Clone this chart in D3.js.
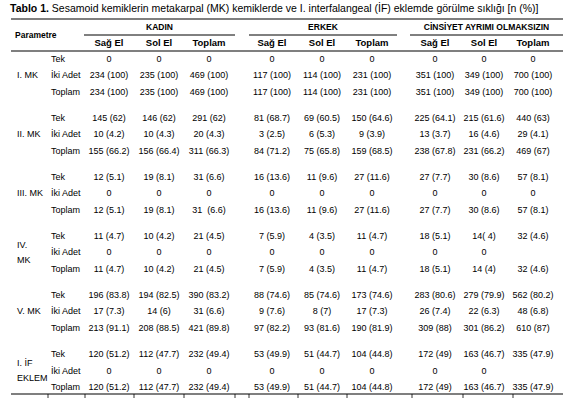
<!DOCTYPE html>
<html><head><meta charset="utf-8">
<script src="https://cdn.jsdelivr.net/npm/d3@7"></script>
<style>body{margin:0;background:#fff}svg{font-family:"Liberation Sans",Arial,sans-serif}</style>
</head><body><svg id="c" width="574" height="404"></svg>
<script>
const title = ["Tablo 1.", " Sesamoid kemiklerin metakarpal (MK) kemiklerde ve I. interfalangeal (İF) eklemde görülme sıklığı [n (%)]"];
const groups = ["KADIN", "ERKEK", "CİNSİYET AYRIMI OLMAKSIZIN"];
const subCols = ["Sağ El", "Sol El", "Toplam"];
const parameters = [["I. MK"], ["II. MK"], ["III. MK"], ["IV.", "MK"], ["V. MK"], ["I. İF", "EKLEM"]];
const rowTypes = ["Tek", "İki Adet", "Toplam"];
const values = [
 [["0","0","0","0","0","0","0","0","0"],
  ["234 (100)","235 (100)","469 (100)","117 (100)","114 (100)","231 (100)","351 (100)","349 (100)","700 (100)"],
  ["234 (100)","235 (100)","469 (100)","117 (100)","114 (100)","231 (100)","351 (100)","349 (100)","700 (100)"]],
 [["145 (62)","146 (62)","291 (62)","81 (68.7)","69 (60.5)","150 (64.6)","225 (64.1)","215 (61.6)","440 (63)"],
  ["10 (4.2)","10 (4.3)","20 (4.3)","3 (2.5)","6 (5.3)","9 (3.9)","13 (3.7)","16 (4.6)","29 (4.1)"],
  ["155 (66.2)","156 (66.4)","311 (66.3)","84 (71.2)","75 (65.8)","159 (68.5)","238 (67.8)","231 (66.2)","469 (67)"]],
 [["12 (5.1)","19 (8.1)","31 (6.6)","16 (13.6)","11 (9.6)","27 (11.6)","27 (7.7)","30 (8.6)","57 (8.1)"],
  ["0","0","0","0","0","0","0","0","0"],
  ["12 (5.1)","19 (8.1)","31  (6.6)","16 (13.6)","11 (9.6)","27 (11.6)","27 (7.7)","30 (8.6)","57 (8.1)"]],
 [["11 (4.7)","10 (4.2)","21 (4.5)","7 (5.9)","4 (3.5)","11 (4.7)","18 (5.1)","14( 4)","32 (4.6)"],
  ["0","0","0","0","0","0","0","0",""],
  ["11 (4.7)","10 (4.2)","21 (4.5)","7 (5.9)","4 (3.5)","11 (4.7)","18 (5.1)","14 (4)","32 (4.6)"]],
 [["196 (83.8)","194 (82.5)","390 (83.2)","88 (74.6)","85 (74.6)","173 (74.6)","283 (80.6)","279 (79.9)","562 (80.2)"],
  ["17 (7.3)","14 (6)","31 (6.6)","9 (7.6)","8 (7)","17 (7.3)","26 (7.4)","22 (6.3)","48 (6.8)"],
  ["213 (91.1)","208 (88.5)","421 (89.8)","97 (82.2)","93 (81.6)","190 (81.9)","309 (88)","301 (86.2)","610 (87)"]],
 [["120 (51.2)","112 (47.7)","232 (49.4)","53 (49.9)","51 (44.7)","104 (44.8)","172 (49)","163 (46.7)","335 (47.9)"],
  ["0","0","0","0","0","0","0","0",""],
  ["120 (51.2)","112 (47.7)","232 (49.4)","53 (49.9)","51 (44.7)","104 (44.8)","172 (49)","163 (46.7)","335 (47.9)"]]
];

const svg = d3.select("#c");
const colX = d3.scaleLinear().domain([0, 8]).range([109, 537]);
const cx = i => colX(i) + Math.floor(i/3)*12 - 4*Math.floor(i/3) ; // group offset
const xs = [109,159,209,272,322,372,435,484,533];
const colPos = d3.scaleOrdinal().domain(d3.range(9)).range(xs);
const groupY = d3.scaleLinear().domain([0, 5]).range([58.5, 354]);
const rowY = d3.scaleLinear().domain([0, 2]).range([0, 33]);
const fs = 9;

// title
const t = svg.append("text").attr("x", 10).attr("y", 12).attr("font-size", 10.5);
t.append("tspan").attr("font-weight", "bold").text(title[0]);
t.append("tspan").text(title[1]);

// rules
const L = 11, R = 563;
svg.append("line").attr("x1", L).attr("x2", R).attr("y1", 19).attr("y2", 19).attr("stroke", "#000").attr("stroke-width", 1.2);
svg.append("line").attr("x1", L).attr("x2", R).attr("y1", 51).attr("y2", 51).attr("stroke", "#000").attr("stroke-width", 1.2);
svg.append("line").attr("x1", L).attr("x2", R).attr("y1", 394).attr("y2", 394).attr("stroke", "#000").attr("stroke-width", 1.2);
const spans = [[84,235],[249,397],[410,563]];
groups.forEach((g, i) => {
  svg.append("line").attr("x1", spans[i][0]).attr("x2", spans[i][1]).attr("y1", 35).attr("y2", 35).attr("stroke", "#000").attr("stroke-width", 1);
  svg.append("text").attr("x", (spans[i][0]+spans[i][1])/2).attr("y", 30).attr("text-anchor", "middle")
    .attr("font-size", 8.5).attr("font-weight", "bold").text(g);
});
[48,85,134,184,235,249,298,347,412,463,513].forEach(x => {
  svg.append("line").attr("x1", x).attr("x2", x).attr("y1", 394).attr("y2", 398).attr("stroke", "#000").attr("stroke-width", 0.8);
});
svg.append("text").attr("x", 15).attr("y", 38).attr("font-size", 8.5).attr("font-weight", "bold").text("Parametre");
d3.range(9).forEach(i => {
  svg.append("text").attr("x", colPos(i)).attr("y", 46).attr("text-anchor", "middle")
    .attr("font-size", 9.5).attr("font-weight", "bold").text(subCols[i % 3]);
});

// body
parameters.forEach((p, gi) => {
  const y0 = groupY(gi);
  const n = p.length;
  p.forEach((line, li) => {
    svg.append("text").attr("x", 17).attr("y", y0 + rowY(1) + 3 + (li - (n-1)/2) * 15)
      .attr("font-size", fs).text(line);
  });
  rowTypes.forEach((rt, ri) => {
    const y = y0 + rowY(ri) + 3;
    svg.append("text").attr("x", 51).attr("y", y).attr("font-size", fs).text(rt);
    values[gi][ri].forEach((v, ci) => {
      svg.append("text").attr("x", colPos(ci)).attr("y", y).attr("text-anchor", "middle")
        .attr("font-size", fs).attr("xml:space", "preserve").style("white-space", "pre").text(v);
    });
  });
});
</script></body></html>
